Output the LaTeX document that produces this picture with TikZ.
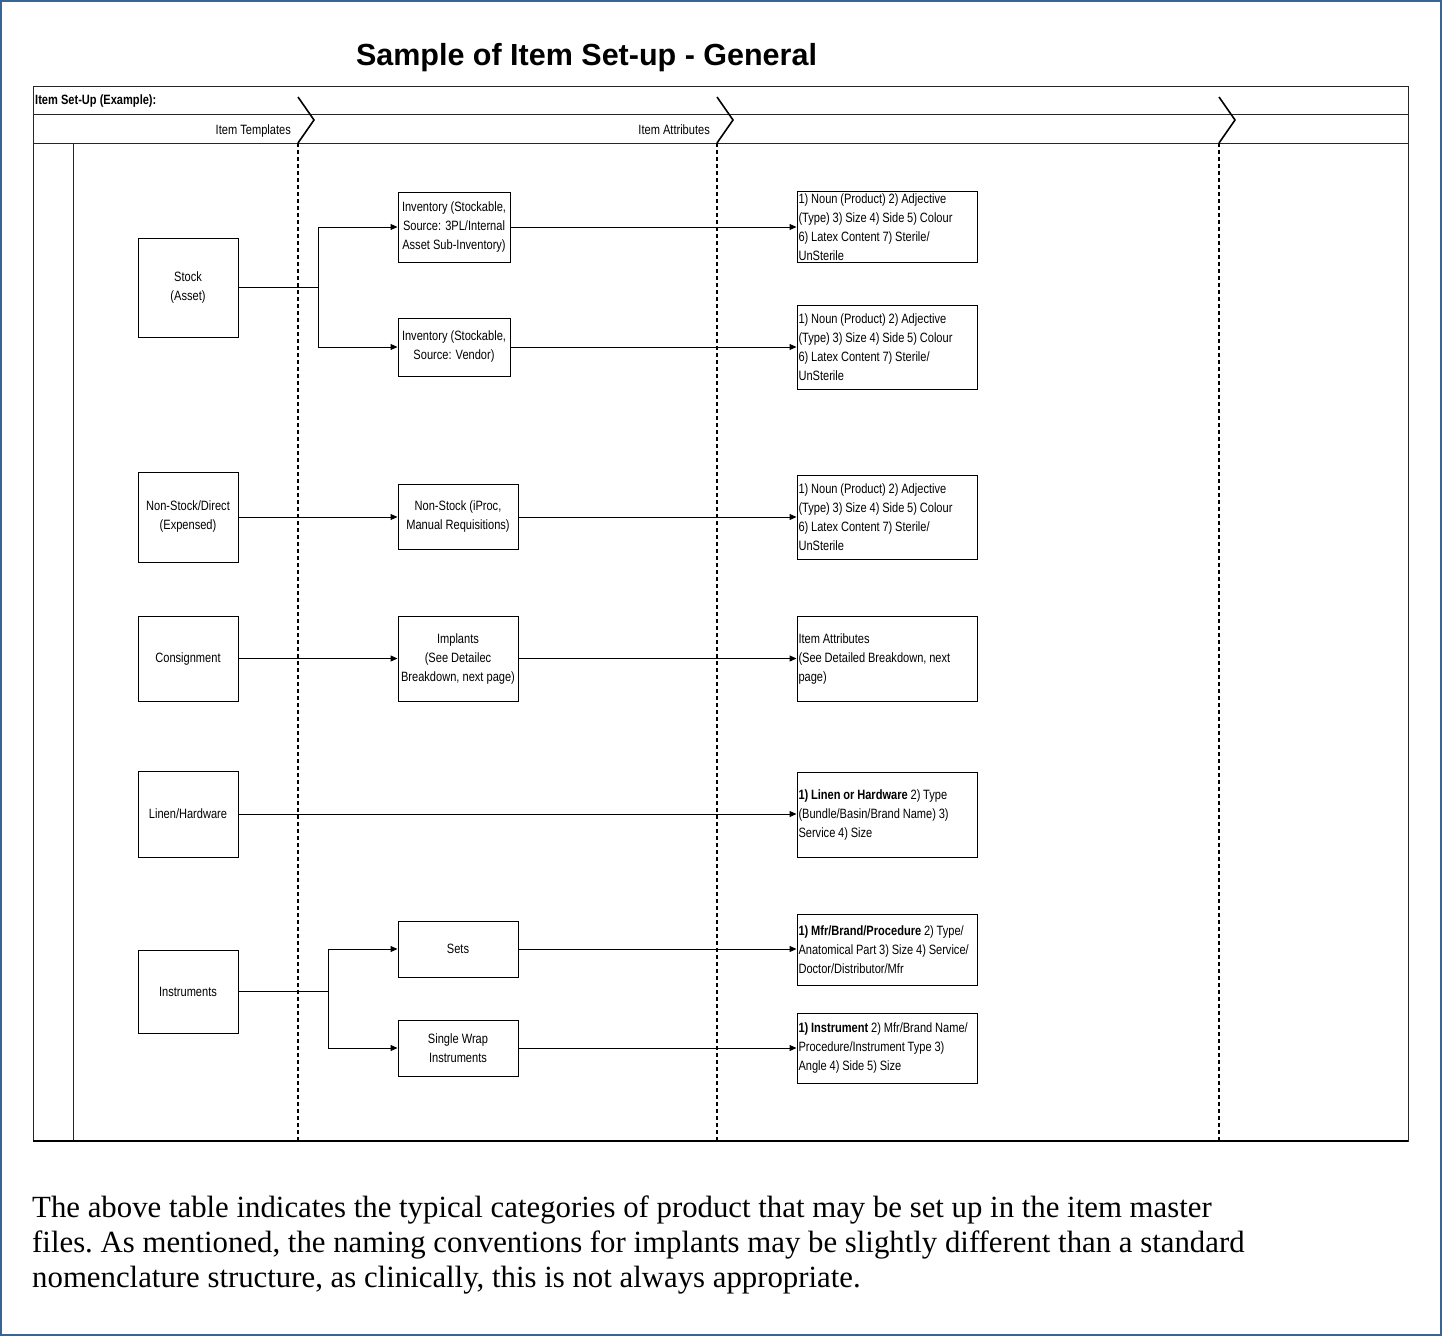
\documentclass[tikz,border=0pt]{standalone}
\usepackage{fontspec}
\setmainfont{Liberation Serif}
\newfontfamily\narrowfont[FakeStretch=0.82]{Liberation Sans}
\newfontfamily\narrowerfont[FakeStretch=0.82]{Liberation Sans}
\newfontfamily\arialfont{Liberation Sans}
\newcommand\lboxfont{\narrowerfont\fontsize{13.5}{19}\selectfont\spaceskip=2.8pt plus 0.5pt minus 0.5pt\relax\hyphenpenalty=10000\relax}
\newcommand\parafont{\fontsize{30.8}{35}\selectfont\frenchspacing}
\usetikzlibrary{arrows.meta}
\definecolor{frameblue}{RGB}{58,100,150}
\begin{document}
\begin{tikzpicture}[x=1pt,y=-1pt,
  box/.style={draw, line width=1pt, inner sep=2pt, align=center, font=\narrowfont\fontsize{13.5}{19}\selectfont},
  lbox/.style={draw, line width=1pt, inner xsep=1.5pt, inner ysep=2pt, align=flush left, text width=177pt, minimum width=180pt,
     font=\lboxfont},
  arr/.style={-{Triangle[length=7pt,width=6pt]}, line width=1pt},
  ln/.style={line width=1pt},
  tbl/.style={line width=1pt, draw=black!85},
  lanesep/.style={line width=2pt, dash pattern=on 4pt off 3pt},
  chev/.style={line width=1.6pt, line join=miter},
  hdr/.style={inner sep=0pt, font=\narrowfont\fontsize{13.5}{16}\selectfont},
  para/.style={inner sep=0pt, anchor=base west, font=\parafont},
]
\useasboundingbox (0,0) rectangle (1442,1336);
% outer frame
\draw[frameblue, line width=1.5pt] (1,1) rectangle (1441,1335);
% title
\node[inner sep=0pt, anchor=base, font=\arialfont\bfseries\fontsize{30.5}{34}\selectfont] (title) at (586.5,65) {Sample of Item Set-up - General};
% table
\draw[tbl] (33,86) rectangle (1408,1141);
\draw[tbl] (33,114) -- (1408,114);
\draw[tbl] (33,143) -- (1408,143);
\draw[tbl] (73,143) -- (73,1141);
\draw[line width=2pt] (33,1141) -- (1408,1141);
% chevrons and lanes
\draw[chev] (298,97) -- (314,120) -- (298,143);
\draw[chev] (717,97) -- (733,120) -- (717,143);
\draw[chev] (1219,97) -- (1235,120) -- (1219,143);
\draw[lanesep] (298,143) -- (298,1140);
\draw[lanesep] (717,143) -- (717,1140);
\draw[lanesep] (1219,143) -- (1219,1140);
% header texts
\node[hdr, anchor=base west, font=\narrowfont\bfseries\fontsize{13.5}{16}\selectfont] (setup) at (35,104) {Item Set-Up (Example):};
\node[hdr, anchor=base east] (templ) at (291,134) {Item Templates};
\node[hdr, anchor=base east] (attrs) at (710,134) {Item Attributes};

% column 1
\node[box, minimum width=100pt, minimum height=99pt] (stock) at (188,287.5) {Stock\\(Asset)};
\node[box, minimum width=100pt, minimum height=90pt] (nonstock) at (188,517) {Non-Stock/Direct\\(Expensed)};
\node[box, minimum width=100pt, minimum height=85pt] (consign) at (188,658.5) {Consignment};
\node[box, minimum width=100pt, minimum height=86pt] (linen) at (188,814) {Linen/Hardware};
\node[box, minimum width=100pt, minimum height=83pt] (instr) at (188,991.5) {Instruments};

% column 2
\node[box, minimum width=112pt, minimum height=70pt] (inv1) at (454,227) {Inventory (Stockable,\\Source: 3PL/Internal\\Asset Sub-Inventory)};
\node[box, minimum width=112pt, minimum height=58pt] (inv2) at (454,347) {Inventory (Stockable,\\Source: Vendor)};
\node[box, minimum width=120pt, minimum height=65pt] (ns2) at (458,517) {Non-Stock (iProc,\\Manual Requisitions)};
\node[box, minimum width=120pt, minimum height=85pt] (impl) at (458,658.5) {Implants\\(See Detailec\\Breakdown, next page)};
\node[box, minimum width=120pt, minimum height=56pt] (sets) at (458,949) {Sets};
\node[box, minimum width=120pt, minimum height=56pt] (swrap) at (458,1048) {Single Wrap\\Instruments};

% column 3
\node[lbox, minimum height=70pt] (a1) at (887,227) {1) Noun (Product) 2) Adjective\\(Type) 3) Size 4) Side 5) Colour\\6) Latex Content 7) Sterile/\\UnSterile};
\node[lbox, minimum height=84pt] (a2) at (887,347) {1) Noun (Product) 2) Adjective\\(Type) 3) Size 4) Side 5) Colour\\6) Latex Content 7) Sterile/\\UnSterile};
\node[lbox, minimum height=84pt] (a3) at (887,517) {1) Noun (Product) 2) Adjective\\(Type) 3) Size 4) Side 5) Colour\\6) Latex Content 7) Sterile/\\UnSterile};
\node[lbox, minimum height=85pt] (a4) at (887,658.5) {Item Attributes\\(See Detailed Breakdown, next\\page)};
\node[lbox, minimum height=85pt] (a5) at (887,814.5) {\textbf{1) Linen or Hardware} 2) Type\\(Bundle/Basin/Brand Name) 3)\\Service 4) Size};
\node[lbox, minimum height=71pt] (a6) at (887,949.5) {\textbf{1) Mfr/Brand/Procedure} 2) Type/\\Anatomical Part 3) Size 4) Service/\\Doctor/Distributor/Mfr};
\node[lbox, minimum height=70pt] (a7) at (887,1048) {\textbf{1) Instrument} 2) Mfr/Brand Name/\\Procedure/Instrument Type 3)\\Angle 4) Side 5) Size};

% connectors
\coordinate (bs) at (318,287.5);
\draw[ln] (stock.east) -- (bs);
\draw[arr] (bs) |- (inv1.west);
\draw[arr] (bs) |- (inv2.west);
\draw[arr] (inv1.east) -- (inv1.east -| a1.west);
\draw[arr] (inv2.east) -- (inv2.east -| a2.west);
\draw[arr] (nonstock.east) -- (nonstock.east -| ns2.west);
\draw[arr] (ns2.east) -- (ns2.east -| a3.west);
\draw[arr] (consign.east) -- (consign.east -| impl.west);
\draw[arr] (impl.east) -- (impl.east -| a4.west);
\draw[arr] (linen.east) -- (linen.east -| a5.west);
\coordinate (bi) at (328,991.5);
\draw[ln] (instr.east) -- (bi);
\draw[arr] (bi) |- (sets.west);
\draw[arr] (bi) |- (swrap.west);
\draw[arr] (sets.east) -- (sets.east -| a6.west);
\draw[arr] (swrap.east) -- (swrap.east -| a7.west);

% paragraph
\node[para] (p1) at (32,1217) {The above table indicates the typical categories of product that may be set up in the item master};
\node[para] (p2) at (32,1252) {files. As mentioned, the naming conventions for implants may be slightly different than a standard};
\node[para] (p3) at (32,1287) {nomenclature structure, as clinically, this is not always appropriate.};
\end{tikzpicture}
\end{document}
